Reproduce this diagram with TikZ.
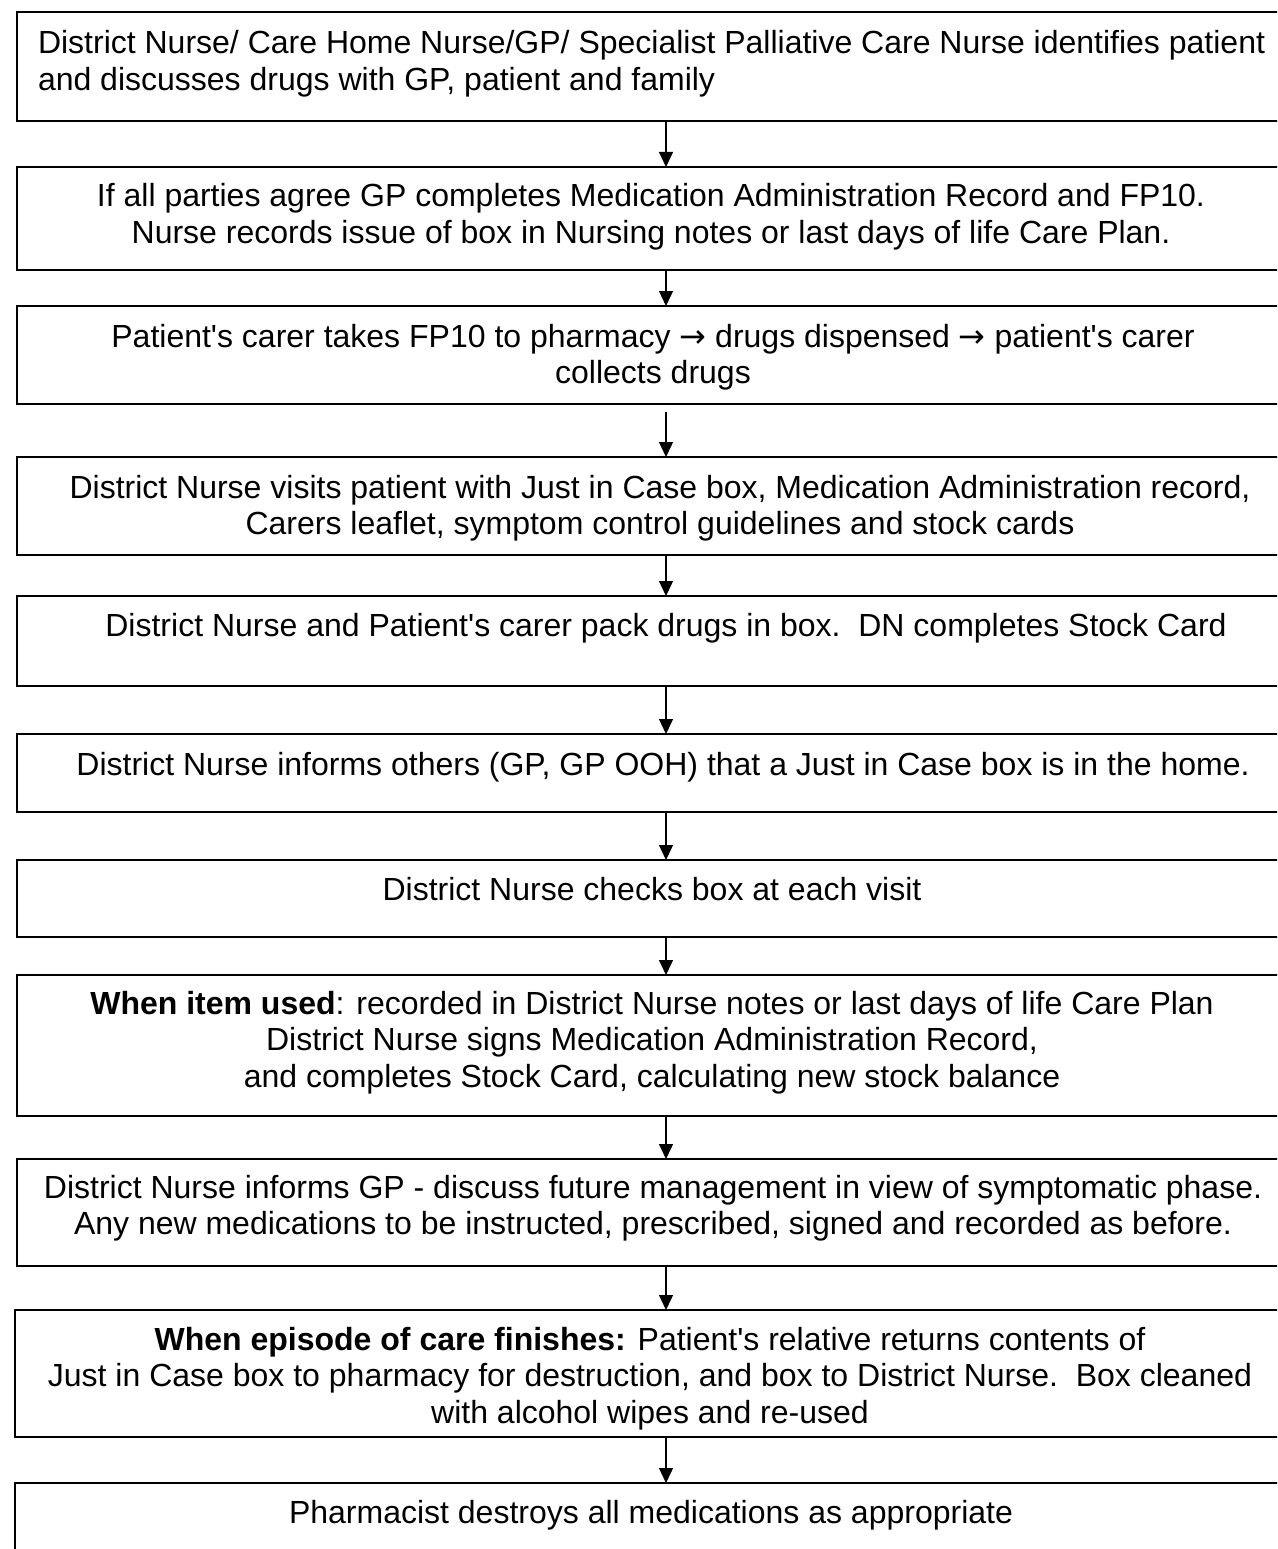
\documentclass[tikz,border=0pt]{standalone}
\usepackage{fontspec}
\setmainfont{Liberation Sans}[Ligatures=TeXOff]
\newfontfamily\arrfont{DejaVu Sans}
\newcommand{\rarr}{{\arrfont →}}
\usetikzlibrary{arrows.meta}
\begin{document}
\begin{tikzpicture}[x=1pt,y=-1pt,
  boxst/.style={draw, line width=1.4pt, inner sep=0pt, outer sep=0pt, anchor=north west, minimum width=1280pt},
  txt/.style={inner sep=0pt, outer sep=0pt, align=center, font=\fontsize{32}{36.8}\selectfont, anchor=base},
  txtl/.style={txt, align=left, anchor=base west},
  arr/.style={-{Triangle[width=14pt,length=15pt]}, line width=1.3pt}]
\useasboundingbox (0,0) rectangle (1277,1549);
\fill[white] (0,0) rectangle (1277,1549);
\clip (0,0) rectangle (1277,1549);
\coordinate (ax) at (666,0);
% boxes
\node[boxst, minimum height=109pt] (b1) at (17,12) {};
\node[boxst, minimum height=103pt] (b2) at (17,167) {};
\node[boxst, minimum height=98pt] (b3) at (17,306) {};
\node[boxst, minimum height=98pt] (b4) at (17,457) {};
\node[boxst, minimum height=90pt] (b5) at (17,596) {};
\node[boxst, minimum height=78pt] (b6) at (17,734) {};
\node[boxst, minimum height=77pt] (b7) at (17,860) {};
\node[boxst, minimum height=141pt] (b8) at (17,975) {};
\node[boxst, minimum height=107pt] (b9) at (17,1159) {};
\node[boxst, minimum height=127pt] (b10) at (15,1310) {};
\node[boxst, minimum height=100pt] (b11) at (15,1483) {};
% texts (base anchor = last line's baseline)
\node[txtl] (t1) at (38,90.8) {District Nurse/ Care Home Nurse/GP/ Specialist Palliative Care Nurse identifies patient\\and discusses drugs with GP, patient and family};
\node[txt] (t2) at (651,243.8) {If all parties agree GP completes Medication Administration Record and FP10.\\Nurse records issue of box in Nursing notes or last days of life Care Plan.};
\node[txt] (t3) at (653,383.8) {Patient's carer takes FP10 to pharmacy \rarr\ drugs dispensed \rarr\ patient's carer\\collects drugs};
\node[txt] (t4) at (660,534.8) {District Nurse visits patient with Just in Case box, Medication Administration record,\\Carers leaflet, symptom control guidelines and stock cards};
\node[txt] (t5) at (666,636) {District Nurse and Patient's carer pack drugs in box.\ \ DN completes Stock Card};
\node[txt] (t6) at (663,775) {District Nurse informs others (GP, GP OOH) that a Just in Case box is in the home.};
\node[txt] (t7) at (652,900) {District Nurse checks box at each visit};
\node[txt] (t8) at (652,1087.6) {\textbf{When item used}: recorded in District Nurse notes or last days of life Care Plan\\District Nurse signs Medication Administration Record,\\and completes Stock Card, calculating new stock balance};
\node[txt] (t9) at (653,1234.8) {District Nurse informs GP - discuss future management in view of symptomatic phase.\\Any new medications to be instructed, prescribed, signed and recorded as before.};
\node[txt] (t10) at (650,1423.6) {\textbf{When episode of care finishes:} Patient's relative returns contents of\\Just in Case box to pharmacy for destruction, and box to District Nurse.\ \ Box cleaned\\with alcohol wipes and re-used};
\node[txt] (t11) at (651,1523) {Pharmacist destroys all medications as appropriate};
% connectors
\draw[arr] (b1.south -| ax) -- (b2.north -| ax);
\draw[arr] (b2.south -| ax) -- (b3.north -| ax);
\draw[arr] ([yshift=-8pt]b3.south -| ax) -- (b4.north -| ax);
\draw[arr] (b4.south -| ax) -- (b5.north -| ax);
\draw[arr] (b5.south -| ax) -- (b6.north -| ax);
\draw[arr] (b6.south -| ax) -- (b7.north -| ax);
\draw[arr] (b7.south -| ax) -- (b8.north -| ax);
\draw[arr] (b8.south -| ax) -- (b9.north -| ax);
\draw[arr] (b9.south -| ax) -- (b10.north -| ax);
\draw[arr] (b10.south -| ax) -- (b11.north -| ax);
\end{tikzpicture}
\end{document}
